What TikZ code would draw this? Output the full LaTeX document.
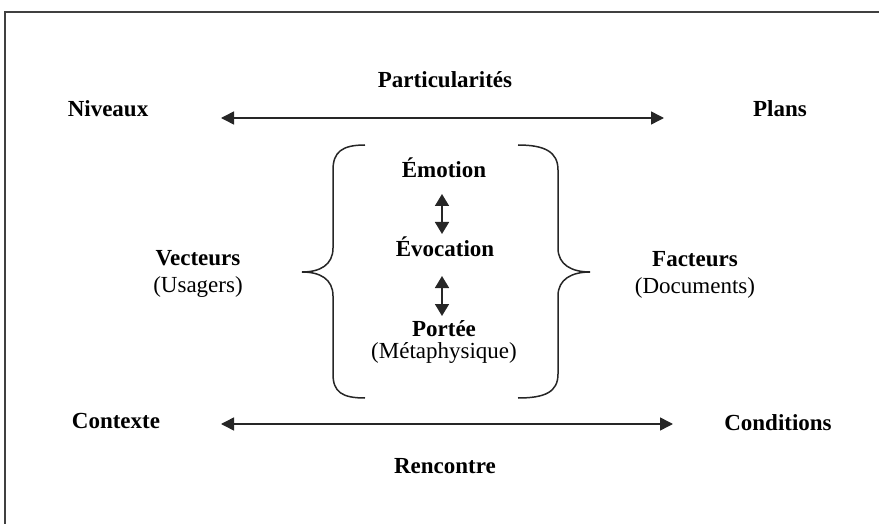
\documentclass[tikz,border=0pt]{standalone}
\usepackage{fontspec}
\setmainfont{Liberation Serif}
\usetikzlibrary{arrows.meta}
\begin{document}
\begin{tikzpicture}[x=1pt,y=-1pt,
  lbl/.style={font=\fontsize{23}{26}\selectfont\bfseries, inner sep=0pt, align=center},
  sub/.style={font=\fontsize{23}{26}\selectfont, inner sep=0pt, align=center},
  harrow/.style={line width=1.5pt, draw=black!85, {Triangle[length=13pt,width=13pt]}-{Triangle[length=13pt,width=13pt]}},
  varrow/.style={line width=1.6pt, draw=black!85, {Triangle[length=12pt,width=14pt]}-{Triangle[length=12pt,width=14pt]}},
  brace/.style={line width=1.5pt, draw=black!85},
  frame/.style={line width=1.8pt, draw=black!75}]
\useasboundingbox (0,0) rectangle (879,524);
\draw[frame] (5,524) -- (5,12) -- (879,12);

\node[lbl] (niveaux) at (108,109) {Niveaux};
\node[lbl] (partic) at (445,80) {Particularités};
\node[lbl] (plans) at (780,109) {Plans};
\coordinate (ta) at (221,118);
\coordinate (tb) at (664,118);
\draw[harrow] (ta) -- (tb);

\node[lbl] (vect) at (198,258) {Vecteurs};
\node[sub] (usag) at (198,287) {(Usagers)};
\node[lbl] (fact) at (695,259) {Facteurs};
\node[sub] (docs) at (695,288) {(Documents)};

\node[lbl] (emotion) at (444,168) {Émotion};
\node[lbl] (evoc) at (445,247) {Évocation};
\node[lbl] (portee) at (444,329) {Portée};
\node[sub] (meta) at (444,353) {(Métaphysique)};
\coordinate (v1a) at (442,194);
\coordinate (v1b) at (442,234);
\coordinate (v2a) at (442,276);
\coordinate (v2b) at (442,316);
\draw[varrow] (v1a) -- (v1b);
\draw[varrow] (v2a) -- (v2b);

\draw[brace] (365,145) .. controls (342,145) and (333,152) .. (333,170) -- (333,248)
  .. controls (333,265) and (320,272) .. (302,272)
  .. controls (320,272) and (333,279) .. (333,296) -- (333,374)
  .. controls (333,392) and (342,398) .. (365,398);
\draw[brace] (518,145) .. controls (545,145) and (558,152) .. (558,170) -- (558,248)
  .. controls (558,265) and (572,272) .. (590,272)
  .. controls (572,272) and (558,279) .. (558,296) -- (558,374)
  .. controls (558,392) and (545,398) .. (518,398);

\node[lbl] (ctx) at (116,421) {Contexte};
\node[lbl] (cond) at (778,423) {Conditions};
\node[lbl] (renc) at (445,466) {Rencontre};
\coordinate (ba) at (221,424);
\coordinate (bb) at (673,424);
\draw[harrow] (ba) -- (bb);
\end{tikzpicture}
\end{document}
